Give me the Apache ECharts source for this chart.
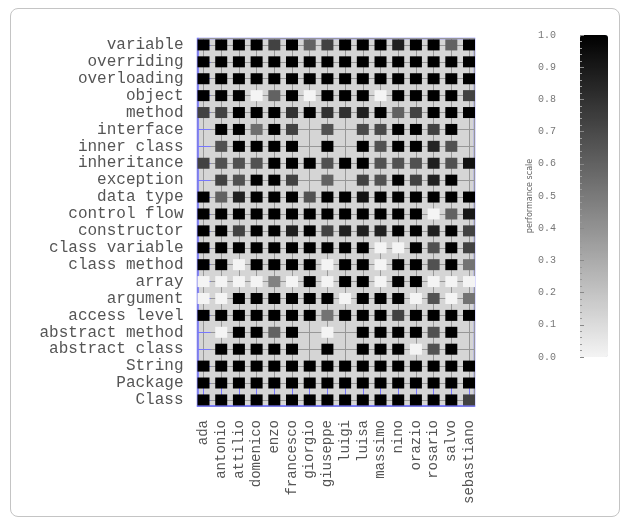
<!DOCTYPE html>
<html><head><meta charset="utf-8">
<script src="https://cdn.jsdelivr.net/npm/echarts@6/dist/echarts.min.js"></script>
<style>
html,body{margin:0;padding:0;background:#fff;}
#frame{position:absolute;left:10px;top:8px;width:610px;height:509px;border:1px solid #c4c4c4;border-radius:8px;box-sizing:border-box;}
#chart{position:absolute;left:0;top:0;width:627px;height:524px;}
</style></head>
<body><div id="frame"></div><div id="chart"></div>
<script>
const students = ['ada','antonio','attilio','domenico','enzo','francesco','giorgio','giuseppe','luigi','luisa','massimo','nino','orazio','rosario','salvo','sebastiano'];
const topics = ['variable','overriding','overloading','object','method','interface','inner class','inheritance','exception','data type','control flow','constructor','class variable','class method','array','argument','access level','abstract method','abstract class','String','Package','Class'];
const scaleTicks = [0,0.1,0.2,0.3,0.4,0.5,0.6,0.7,0.8,0.9,1.0];

const rowVariable       = [1,1,1,1,0.73,1,0.6,0.73,1,1,1,0.87,1,1,0.6,1];
const rowOverriding     = [1,1,1,1,1,1,1,1,1,1,1,1,1,1,1,1];
const rowOverloading    = [1,1,1,1,1,1,1,1,1,1,1,1,1,1,1,1];
const rowObject         = [1,1,1,0,0.6,1,0,1,1,1,0,1,1,1,1,0.73];
const rowMethod         = [0.73,0.73,1,1,1,0.8,1,0.8,0.8,0.87,1,0.6,0.73,1,1,1];
const rowInterface      = [null,1,1,0.55,1,0.73,null,0.67,null,0.7,0.7,1,1,0.73,1,null];
const rowInnerClass     = [null,0.67,1,1,1,1,null,1,null,1,0.67,1,1,0.85,0.67,null];
const rowInheritance    = [0.73,0.67,0.67,0.67,1,1,1,0.67,1,1,0.67,0.67,0.67,0.87,0.67,0.93];
const rowException      = [null,0.73,0.67,1,1,0.73,null,0.6,null,0.73,0.67,1,0.73,0.87,1,null];
const rowDataType       = [1,0.6,0.87,1,1,1,0.67,1,1,0.93,1,1,1,1,1,1];
const rowControlFlow    = [1,1,1,1,1,1,1,1,1,1,1,1,1,0,0.6,0.9];
const rowConstructor    = [1,1,0.73,1,1,0.87,1,0.73,0.87,0.87,0.87,1,1,0.87,1,0.73];
const rowClassVariable  = [1,1,1,1,1,1,1,1,1,1,0,0,1,0.67,1,0.73];
const rowClassMethod    = [1,1,0,1,1,1,1,0,1,1,0,1,1,0.67,1,0.53];
const rowArray          = [0,0,0,0,0.47,0,1,0,1,1,0,1,1,0,0,0];
const rowArgument       = [0,0,1,1,1,1,1,1,0,1,1,1,0,0.67,0,0.53];
const rowAccessLevel    = [1,1,1,1,1,1,1,0.53,1,1,1,0.73,1,1,1,1];
const rowAbstractMethod = [null,0,1,1,0.6,1,null,0,null,1,1,1,1,0.67,1,null];
const rowAbstractClass  = [null,1,1,1,1,1,null,1,null,1,1,1,0,0.67,1,null];
const rowString         = [1,1,1,1,1,1,1,1,1,1,1,1,1,1,1,1];
const rowPackage        = [1,1,1,1,1,1,1,1,1,1,1,1,1,1,1,1];
const rowClass          = [1,1,1,1,1,1,1,1,1,1,1,1,1,1,1,0.73];

const rows = [rowVariable,rowOverriding,rowOverloading,rowObject,rowMethod,rowInterface,rowInnerClass,rowInheritance,rowException,rowDataType,rowControlFlow,rowConstructor,rowClassVariable,rowClassMethod,rowArray,rowArgument,rowAccessLevel,rowAbstractMethod,rowAbstractClass,rowString,rowPackage,rowClass];

const data = [];
rows.forEach((r, yi) => r.forEach((v, xi) => { if (v !== null) data.push([xi, yi, v]); }));

const FONT = 'Liberation Mono';
const BLUE = '#7676ff';
const isInt = v => Math.abs(v - Math.round(v)) < 1e-6;

const chart = echarts.init(document.getElementById('chart'));
chart.setOption({
  animation: false,
  grid: [
    {left: 197.5, top: 38.5, width: 277, height: 367.5, show: true, backgroundColor: '#d5d5d5', borderColor: BLUE, borderWidth: 1.5},
    {left: 580, top: 35, width: 28, height: 322}
  ],
  xAxis: [
    {type: 'value', gridIndex: 0, min: -0.34, max: 15.31, splitNumber: 16,
     axisLine: {show: true, onZero: false, lineStyle: {color: BLUE, width: 1.5}},
     axisTick: {show: true, inside: true, length: 18, lineStyle: {color: BLUE}},
     splitLine: {show: true, lineStyle: {color: '#979797', width: 1}},
     axisLabel: {rotate: 90, margin: 14, fontFamily: FONT, fontSize: 14, color: '#555',
       showMinLabel: false, showMaxLabel: false,
       formatter: v => isInt(v) ? (students[Math.round(v)] || '') : ''}},
    {type: 'category', gridIndex: 1, show: false, data: ['']}
  ],
  yAxis: [
    {type: 'value', gridIndex: 0, inverse: true, min: -0.38, max: 21.36, splitNumber: 22,
     axisLine: {show: true, onZero: false, lineStyle: {color: BLUE, width: 1.5}},
     axisTick: {show: true, inside: true, length: 13, lineStyle: {color: BLUE}},
     splitLine: {show: true, lineStyle: {color: '#979797', width: 1}},
     axisLabel: {margin: 14, fontFamily: FONT, fontSize: 16, color: '#555',
       showMinLabel: false, showMaxLabel: false,
       formatter: v => isInt(v) ? (topics[Math.round(v)] || '') : ''}},
    {type: 'value', gridIndex: 1, z: 10, min: scaleTicks[0], max: scaleTicks[scaleTicks.length-1], interval: 0.1,
     name: 'performance scale', nameLocation: 'middle', nameRotate: 90, nameGap: 46,
     nameTextStyle: {fontFamily: 'DejaVu Sans', fontSize: 8, color: '#666'},
     axisLine: {show: false, onZero: false},
     axisTick: {show: true, inside: true, length: 4, lineStyle: {color: '#888'}},
     minorTick: {show: true, splitNumber: 5, length: 2, lineStyle: {color: '#999'}},
     splitLine: {show: false},
     axisLabel: {margin: 24, fontFamily: FONT, fontSize: 10, color: '#777', formatter: v => v.toFixed(1)}}
  ],
  visualMap: {
    type: 'continuous', min: 0, max: 1, dimension: 2, seriesIndex: 0, z: 2,
    inRange: {color: ['#f4f4f4', '#000000']},
    left: 580, top: 35, itemWidth: 28, itemHeight: 322, padding: 0,
    calculable: false, hoverLink: false, orient: 'vertical', text: null, show: true
  },
  series: [{
    type: 'scatter', xAxisIndex: 0, yAxisIndex: 0,
    symbol: 'rect', symbolSize: [12, 11], data: data, clip: false,
    itemStyle: {opacity: 1}
  }]
});
</script></body></html>
